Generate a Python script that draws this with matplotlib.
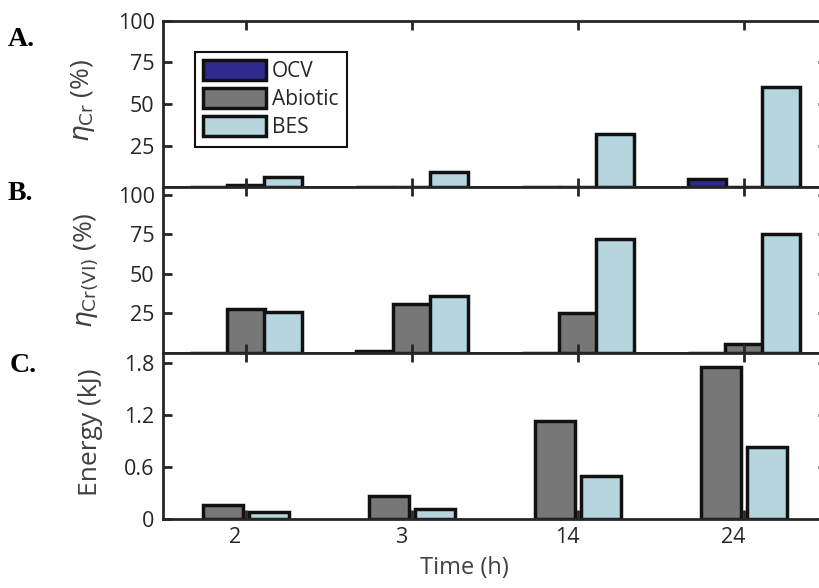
"""
Three stacked bar panels: Cr removal, Cr(VI) removal and energy vs time
"""
import numpy as np
import matplotlib
matplotlib.use("Agg")
import matplotlib.pyplot as plt
import matplotlib.transforms as mtransforms

# --- data ---
times = ["2", "3", "14", "24"]
series = ["OCV", "Abiotic", "BES"]

cr_ocv = [0, 0, 0, 5]
cr_abiotic = [1, 0, 0, 0]
cr_bes = [6, 9, 32, 60]

crvi_ocv = [0, 1.5, 0, 0]
crvi_abiotic = [28, 31, 25, 6]
crvi_bes = [26, 36, 72, 75]

energy_abiotic = [0.16, 0.27, 1.13, 1.75]
energy_bes = [0.08, 0.11, 0.50, 0.83]

pct_ticks = [25, 50, 75, 100]
energy_ticks = [0, 0.6, 1.2, 1.8]

COLORS = {"OCV": "#2f2a8c", "Abiotic": "#777777", "BES": "#b6d6df"}
TXT = "#262626"
LAB = "#404040"
EDGE = "#111111"

plt.rcParams["font.family"] = ["Open Sans", "DejaVu Sans"]
plt.rcParams["mathtext.fontset"] = "dejavusans"

fig = plt.figure(figsize=(8.2, 5.88), dpi=100)
W, H = 820.0, 588.0
left, right = 163, 827
heights = [(21, 187), (187, 353), (353, 519)]
axes = []
for top, bot in heights:
    ax = fig.add_axes([left / W, (H - bot) / H, (right - left) / W, (bot - top) / H])
    axes.append(ax)
ax_a, ax_b, ax_c = axes

x = np.arange(len(times))


def style(ax):
    ax.set_xlim(-0.5, len(times) - 0.5)
    ax.set_xticks(x)
    for s in ax.spines.values():
        s.set_linewidth(2.0)
        s.set_color(TXT)
    ax.tick_params(direction="in", length=6.5, width=2.0, color=TXT,
                   top=True, right=True, labelsize=15.5, labelcolor=TXT,
                   pad=6)
    ax.set_axisbelow(False)


def bars(ax, offsets, width, values, names):
    for off, vals, name in zip(offsets, values, names):
        ax.bar(x + off, vals, width, color=COLORS[name], edgecolor=EDGE,
               linewidth=2.5, label=name, zorder=1)


# A. total Cr
bars(ax_a, [-0.225, 0, 0.225], 0.23, [cr_ocv, cr_abiotic, cr_bes], series)
style(ax_a)
ax_a.set_ylim(0, 100)
ax_a.set_yticks(pct_ticks)
ax_a.set_xticklabels([])
ax_a.set_ylabel(r"$\eta_{\mathrm{Cr}}$ (%)", fontsize=19, color=LAB)
ax_a.yaxis.set_label_coords(-0.10, 0.52)
leg = ax_a.legend(loc="upper left", bbox_to_anchor=(0.048, 0.813),
                  borderaxespad=0, fontsize=15, handlelength=3.0,
                  handleheight=1.05, handletextpad=0.3, labelspacing=0.3,
                  borderpad=0.4, fancybox=False, framealpha=1)
leg.get_frame().set_edgecolor(EDGE)
leg.get_frame().set_linewidth(1.5)
for t in leg.get_texts():
    t.set_color(TXT)

# B. Cr(VI)
bars(ax_b, [-0.225, 0, 0.225], 0.23, [crvi_ocv, crvi_abiotic, crvi_bes], series)
style(ax_b)
ax_b.set_ylim(0, 105)
ax_b.set_yticks(pct_ticks)
ax_b.set_xticklabels([])
ax_b.set_ylabel(r"$\eta_{\mathrm{Cr(VI)}}$ (%)", fontsize=19, color=LAB)
ax_b.yaxis.set_label_coords(-0.095, 0.5)

# C. energy
bars(ax_c, [-0.14, 0.14], 0.24, [energy_abiotic, energy_bes], series[1:])
style(ax_c)
ax_c.set_ylim(0, 1.8 * 166 / 156)
ax_c.set_yticks(energy_ticks)
ax_c.set_yticklabels(["0", "0.6", "1.2", "1.8"])
ax_c.set_xticklabels(times)
shift = mtransforms.ScaledTranslation(-11 / 100, 0, fig.dpi_scale_trans)
for lab in ax_c.get_xticklabels():
    lab.set_transform(lab.get_transform() + shift)
ax_c.set_ylabel("Energy (kJ)", fontsize=19, color=LAB)
ax_c.yaxis.set_label_coords(-0.09, 0.524)
ax_c.set_xlabel("Time (h)", fontsize=17, color=LAB)
ax_c.xaxis.set_label_coords(0.454, -0.225)

# panel letters
for letter, (px, py) in zip(["A.", "B.", "C."], [(8, 40), (8, 193), (10, 366)]):
    fig.text(px / W, 1 - py / H, letter, fontsize=20, fontweight="bold",
             family="Liberation Serif", va="center", ha="left", color="black")

fig.savefig("out.png", dpi=100)
